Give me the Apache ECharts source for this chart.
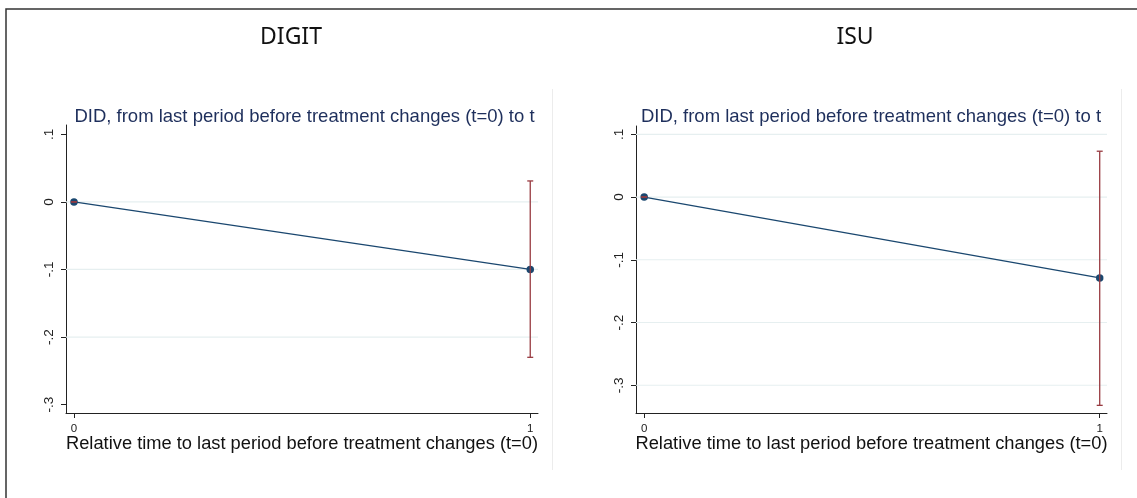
<!DOCTYPE html>
<html>
<head>
<meta charset="utf-8">
<script src="https://cdn.jsdelivr.net/npm/echarts@6/dist/echarts.min.js"></script>
<style>html,body{margin:0;padding:0;background:#fff}#c{width:1137px;height:498px}</style>
</head>
<body>
<div id="c"></div>
<script>
const panelNames = ['DIGIT', 'ISU'];
const periods = [0, 1];
const digitEst = [0, -0.100];
const digitLo = [0, -0.230];
const digitHi = [0, 0.031];
const isuEst = [0, -0.129];
const isuLo = [0, -0.332];
const isuHi = [0, 0.073];
const yTicks = [0.1, 0, -0.1, -0.2, -0.3];
const xTicks = [0, 1];
const digitGridlines = [0, -0.1, -0.2];
const isuGridlines = [0.1, 0, -0.1, -0.2, -0.3];
const subtitle = 'DID, from last period before treatment changes (t=0) to t';
const xName = 'Relative time to last period before treatment changes (t=0)';

const chart = echarts.init(document.getElementById('c'));
const NAVY = '#1a476f';
const MAROON = '#983a40';
const GRID = '#e6eff0';
const SANS = 'Liberation Sans, Arial, sans-serif';
const fmtY = v => {
  if (Math.abs(v) < 1e-9) return '0';
  const s = Math.abs(v).toFixed(1).replace(/^0/, '');
  return (v < 0 ? '-' : '') + s;
};

function pairs(xs, ys) { return xs.map((x, i) => [x, ys[i]]); }
function ciData(xs, lo, hi) { return xs.map((x, i) => [x, lo[i], hi[i]]); }

const errRender = (params, api) => {
  const x = api.value(0);
  const p1 = api.coord([x, api.value(1)]);
  const p2 = api.coord([x, api.value(2)]);
  const w = 3;
  const st = { stroke: MAROON, lineWidth: 1.3 };
  return {
    type: 'group',
    children: [
      { type: 'line', shape: { x1: p1[0], y1: p1[1], x2: p2[0], y2: p2[1] }, style: st },
      { type: 'line', shape: { x1: p1[0] - w, y1: p1[1], x2: p1[0] + w, y2: p1[1] }, style: st },
      { type: 'line', shape: { x1: p2[0] - w, y1: p2[1], x2: p2[0] + w, y2: p2[1] }, style: st }
    ]
  };
};

const gridRender = (params, api) => {
  const cs = params.coordSys;
  const y = api.coord([0, api.value(0)])[1];
  return {
    type: 'line',
    shape: { x1: cs.x, y1: y, x2: cs.x + cs.width, y2: y },
    style: { stroke: GRID, lineWidth: 1.2 }
  };
};

function yAxis(idx, min, max) {
  return {
    type: 'value', gridIndex: idx, min: min, max: max,
    axisLine: { show: true, onZero: false, lineStyle: { color: '#222', width: 1 } },
    axisTick: { show: true, length: 5, customValues: yTicks, lineStyle: { color: '#222' } },
    axisLabel: { customValues: yTicks, formatter: fmtY, rotate: 90, margin: 10,
      fontFamily: SANS, fontSize: 13.5, color: '#222' },
    splitLine: { show: false }
  };
}
function xAxis(idx, min, max) {
  return {
    type: 'value', gridIndex: idx, min: min, max: max,
    name: xName, nameLocation: 'middle', nameGap: 22, nameMoveOverlap: false,
    nameTextStyle: { fontFamily: SANS, fontSize: 18.3, color: '#111', verticalAlign: 'top' },
    axisLine: { show: true, onZero: false, lineStyle: { color: '#222', width: 1 } },
    axisTick: { show: true, length: 5, customValues: xTicks, lineStyle: { color: '#222' } },
    axisLabel: { customValues: xTicks, margin: 10, fontFamily: SANS, fontSize: 11.5, color: '#222' },
    splitLine: { show: false }
  };
}
function gridSeries(xi, vals) {
  return {
    type: 'custom', xAxisIndex: xi, yAxisIndex: xi, data: vals.map(v => [v]), z: 1, silent: true,
    encode: { y: 0 }, renderItem: gridRender
  };
}

const titleFont = { fontFamily: 'Noto Sans, Open Sans, sans-serif', fontSize: 23, fontWeight: 'normal', color: '#111' };
const subFont = { fontFamily: SANS, fontSize: 18.5, fontWeight: 'normal', color: '#1e2f5c' };

const option = {
  animation: false,
  backgroundColor: '#fff',
  title: [
    { text: panelNames[0], left: 286, top: 21, textAlign: 'center', textStyle: titleFont },
    { text: panelNames[1], left: 850, top: 21, textAlign: 'center', textStyle: titleFont },
    { text: subtitle, left: 299.5, top: 102, textAlign: 'center', textStyle: subFont },
    { text: subtitle, left: 866, top: 102, textAlign: 'center', textStyle: subFont }
  ],
  graphic: [
    { type: 'rect', shape: { x: 6, y: 9, width: 1300, height: 700 }, style: { fill: 'none', stroke: '#333', lineWidth: 1.5 }, z: 100 },
    { type: 'line', shape: { x1: 552.5, y1: 89, x2: 552.5, y2: 470 }, style: { stroke: '#ececec', lineWidth: 1 } },
    { type: 'line', shape: { x1: 1121.5, y1: 89, x2: 1121.5, y2: 470 }, style: { stroke: '#ececec', lineWidth: 1 } }
  ],
  grid: [
    { left: 66, right: 599, top: 125, bottom: 85 },
    { left: 636, right: 30, top: 126, bottom: 85 }
  ],
  xAxis: [xAxis(0, -0.0175, 1.017), xAxis(1, -0.018, 1.016)],
  yAxis: [yAxis(0, -0.3124, 0.1138), yAxis(1, -0.3442, 0.1132)],
  series: [
    gridSeries(0, digitGridlines),
    gridSeries(1, isuGridlines),
    { type: 'line', xAxisIndex: 0, yAxisIndex: 0, data: pairs(periods, digitEst),
      symbol: 'circle', symbolSize: 7.5, itemStyle: { color: NAVY }, lineStyle: { color: NAVY, width: 1.3 }, z: 2 },
    { type: 'custom', xAxisIndex: 0, yAxisIndex: 0, data: ciData(periods, digitLo, digitHi),
      renderItem: errRender, z: 3 },
    { type: 'line', xAxisIndex: 1, yAxisIndex: 1, data: pairs(periods, isuEst),
      symbol: 'circle', symbolSize: 7.5, itemStyle: { color: NAVY }, lineStyle: { color: NAVY, width: 1.3 }, z: 2 },
    { type: 'custom', xAxisIndex: 1, yAxisIndex: 1, data: ciData(periods, isuLo, isuHi),
      renderItem: errRender, z: 3 }
  ]
};
chart.setOption(option);
</script>
</body>
</html>
